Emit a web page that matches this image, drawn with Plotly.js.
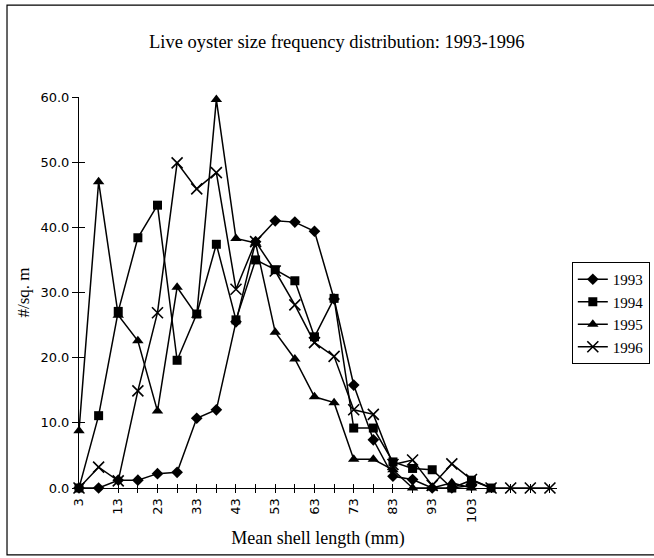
<!DOCTYPE html>
<html>
<head>
<meta charset="utf-8">
<script src="https://cdn.plot.ly/plotly-3.0.1.min.js"></script>
<style>html,body{margin:0;padding:0;background:#fff;}#chart{width:654px;height:558px;}</style>
</head>
<body>
<div id="chart"></div>
<script>
var categories = [3, 8, 13, 18, 23, 28, 33, 38, 43, 48, 53, 58, 63, 68, 73, 78, 83, 88, 93, 98, 103, 108, 113, 118, 123];
var tickLabels = ["3", "13", "23", "33", "43", "53", "63", "73", "83", "93", "103"];
var tickValues = [3, 13, 23, 33, 43, 53, 63, 73, 83, 93, 103];
var y1993 = [0, 0, 1.2, 1.2, 2.2, 2.4, 10.7, 12.0, 25.5, 37.8, 41.0, 40.8, 39.4, 29.0, 15.8, 7.4, 1.8, 1.3, 0, 0, 0.4];
var y1994 = [0, 11.1, 27.1, 38.4, 43.4, 19.6, 26.7, 37.4, 25.8, 35.0, 33.5, 31.8, 23.2, 29.1, 9.2, 9.2, 4.0, 3.0, 2.8, 0, 1.2, 0];
var y1995 = [8.8, 47.0, 26.5, 22.6, 11.8, 30.8, 26.5, 59.6, 38.3, 37.6, 23.9, 19.8, 14.0, 13.1, 4.4, 4.4, 2.8, 0, 0, 0.8, 0];
var y1996 = [0, 3.2, 1.1, 14.9, 26.9, 49.9, 45.9, 48.4, 30.5, 37.8, 33.3, 28.1, 22.3, 20.2, 12.0, 11.3, 3.6, 4.3, 0.4, 3.7, 1.3, 0, 0, 0, 0];
var seriesNames = ["1993", "1994", "1995", "1996"];

function mk(name, ys, sym, size, lw) {
  return {
    type: 'scatter', mode: 'lines+markers', name: name,
    x: categories.slice(0, ys.length), y: ys,
    cliponaxis: false,
    line: {color: '#000', width: 1.5},
    marker: {symbol: sym, size: size, color: '#000', line: {color: '#000', width: lw}}
  };
}
var traces = [
  mk(seriesNames[0], y1993, 'diamond', 9, 0),
  mk(seriesNames[1], y1994, 'square', 9, 0),
  mk(seriesNames[2], y1995, 'triangle-up', 10, 0),
  mk(seriesNames[3], y1996, 'x-thin-open', 11, 1.6)
];
// overlay trace for inward ticks (no data drawn)
traces.push({type:'scatter', x:[], y:[], xaxis:'x2', yaxis:'y2', showlegend:false, hoverinfo:'skip'});

var tickFont = {family: 'DejaVu Sans, Arial, sans-serif', size: 13, color: '#000'};
var serif = 'Liberation Serif, Times New Roman, serif';
var layout = {
  width: 654, height: 558,
  paper_bgcolor: '#fff', plot_bgcolor: '#fff',
  margin: {l: 79, r: 97, t: 97, b: 70, autoexpand: false},
  title: {text: 'Live oyster size frequency distribution: 1993-1996', font: {family: serif, size: 18.5, color: '#000'},
          xref: 'container', x: 0.515, xanchor: 'center', yref: 'container', y: 0.925, yanchor: 'middle'},
  showlegend: true,
  legend: {x: 1.031, xanchor: 'left', y: 0.578, yanchor: 'top', bordercolor: '#000', borderwidth: 1,
           bgcolor: '#fff', font: {family: serif, size: 15, color: '#000'}, tracegroupgap: 0, itemwidth: 30},
  xaxis: {
    range: [3, 124.8], showgrid: false, zeroline: false, showline: true, linecolor: '#000', linewidth: 1,
    tickmode: 'array', tickvals: tickValues, ticktext: tickLabels, tickangle: -90,
    ticks: 'outside', ticklen: 4, tickcolor: '#000', tickfont: tickFont,
    minor: {tickmode: 'linear', tick0: 3, dtick: 5, ticks: 'outside', ticklen: 4, tickcolor: '#000'},
    title: {text: 'Mean shell length (mm)', font: {family: serif, size: 18, color: '#000'}, standoff: 9}
  },
  xaxis2: {overlaying: 'x', range: [3, 124.8], side: 'bottom', anchor: 'y2', showgrid: false, zeroline: false,
           showticklabels: false, tickmode: 'linear', tick0: 3, dtick: 5, ticks: 'inside', ticklen: 4, tickcolor: '#000'},
  yaxis: {
    range: [0, 60], dtick: 10, tickformat: '.1f', showgrid: false, zeroline: false, showline: true,
    linecolor: '#000', linewidth: 1, ticks: 'outside', ticklen: 6, tickcolor: '#000', tickfont: tickFont,
    title: {text: '#/sq. m', font: {family: serif, size: 17, color: '#000'}, standoff: 6}
  },
  yaxis2: {overlaying: 'y', range: [0, 60], dtick: 10, anchor: 'x2', showgrid: false, zeroline: false,
           showticklabels: false, ticks: 'inside', ticklen: 6, tickcolor: '#000'},
  shapes: [{type: 'rect', xref: 'paper', yref: 'paper', x0: -0.1506, x1: 1.26, y0: -0.171, y1: 1.235,
            line: {color: '#000', width: 1.2}}]
};
Plotly.newPlot('chart', traces, layout, {staticPlot: true});
</script>
</body>
</html>
